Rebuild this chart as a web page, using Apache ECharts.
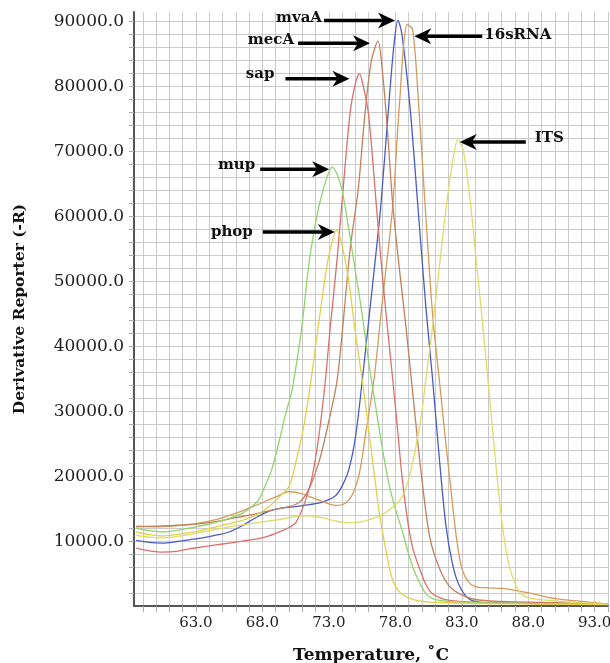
<!DOCTYPE html>
<html>
<head>
<meta charset="utf-8">
<script src="https://cdn.jsdelivr.net/npm/echarts@6/dist/echarts.min.js"></script>
<style>
html,body{margin:0;padding:0;background:#fff;}
#chart{width:610px;height:663px;}
</style>
</head>
<body>
<div id="chart"></div>
<script>
// ---- data (temperature °C, derivative reporter -R) ----
const seriesNames = ['mvaA', '16sRNA', 'mecA', 'sap', 'mup', 'phop', 'ITS'];

const mvaA = [[58.5,10100],[59.5,9800],[60.5,9700],[61.5,9900],[62.5,10200],[63.5,10500],[64.5,10900],[65.5,11400],[66.5,12400],[67.5,13600],[68.5,14600],[69.5,15100],[70.5,15300],[71.5,15600],[72.5,16000],[73.5,17000],[74.0,18500],[74.5,21000],[75.0,26000],[75.5,34500],[76.0,44000],[76.5,53500],[76.9,61500],[77.5,77000],[77.9,86500],[78.2,90200],[78.5,88000],[79.1,77000],[79.7,61500],[80.3,46000],[80.8,35000],[81.3,23000],[81.8,12500],[82.3,6500],[82.8,3200],[83.6,1000],[85.0,500],[88.0,400],[91.0,300],[94.0,200]];

const rna16s = [[58.5,12300],[60.0,12200],[61.5,12400],[63.0,12700],[64.5,13300],[66.0,14300],[67.5,15500],[69.0,16800],[70.0,17600],[70.8,17400],[71.5,16900],[72.5,16100],[73.5,15500],[74.2,15800],[74.8,17300],[75.3,20500],[75.8,27000],[76.4,35000],[77.0,46500],[77.8,61500],[78.3,77000],[78.9,89600],[79.3,88800],[79.7,79000],[80.2,63000],[80.8,45000],[81.3,35000],[81.7,27000],[82.1,19500],[82.6,10500],[83.0,5800],[83.5,3700],[84.0,3000],[85.0,2800],[86.1,2700],[87.0,2400],[88.1,2000],[89.6,1300],[91.0,900],[92.6,600],[94.0,300]];

const mecA = [[58.5,12200],[60.0,12300],[61.5,12400],[63.0,12600],[64.5,13000],[66.0,13600],[67.5,14200],[69.0,14900],[70.0,15300],[70.8,16000],[71.5,18000],[72.3,22500],[73.0,28500],[73.6,34500],[74.0,42000],[74.6,55000],[75.2,64000],[75.7,75500],[76.2,84000],[76.7,87000],[77.0,83000],[77.4,73500],[77.8,62000],[78.3,52000],[78.8,43000],[79.2,35000],[79.6,27000],[80.0,19500],[80.6,10500],[81.3,5900],[82.0,3200],[82.8,1900],[84.0,1000],[86.0,700],[90.0,500],[94.0,300]];

const sap = [[58.5,8900],[59.5,8500],[60.5,8300],[61.5,8400],[62.5,8800],[63.5,9100],[64.5,9400],[65.5,9700],[66.5,10000],[67.5,10300],[68.5,10800],[69.5,11600],[70.0,12100],[70.5,12800],[71.2,16000],[71.7,19500],[72.2,25500],[72.7,34000],[73.1,42800],[73.6,53000],[74.0,62500],[74.6,76000],[75.0,80500],[75.3,82000],[75.6,80000],[76.0,75500],[76.6,61000],[77.0,51500],[77.4,43000],[77.8,35000],[78.2,26500],[78.5,20000],[78.9,13500],[79.3,9000],[79.8,5900],[80.3,3300],[80.8,1900],[82.0,900],[85.0,500],[90.0,400],[94.0,200]];

const mup = [[58.5,12000],[59.5,11600],[60.5,11400],[61.5,11600],[62.5,12000],[63.5,12400],[64.5,12900],[65.5,13500],[66.5,14300],[67.2,15300],[67.7,16300],[68.2,18500],[68.7,21000],[69.25,25300],[69.7,29200],[70.2,33000],[70.6,37800],[71.0,43500],[71.4,51000],[71.7,55500],[72.3,62000],[72.9,66300],[73.25,67600],[73.6,66600],[74.0,64000],[74.5,58000],[75.0,51500],[75.5,45000],[76.0,37500],[76.5,31000],[77.0,24600],[77.5,19000],[78.0,15000],[78.5,11700],[79.0,8000],[79.5,5000],[80.3,1900],[81.0,1000],[83.0,600],[88.0,400],[94.0,300]];

const phop = [[58.5,11400],[59.5,11000],[60.5,10800],[61.5,11000],[62.5,11300],[63.5,11700],[64.5,12200],[65.5,12700],[66.5,13200],[67.5,14000],[68.5,15300],[69.2,16700],[70.0,18400],[70.5,22000],[71.0,26500],[71.5,32500],[72.0,40000],[72.5,47500],[73.0,54000],[73.6,57900],[74.0,55500],[74.5,50000],[75.0,42000],[75.5,35000],[76.0,27000],[76.5,19000],[76.8,14300],[77.3,8500],[77.8,4000],[78.5,1800],[79.8,800],[82.0,500],[88.0,300],[94.0,200]];

const its = [[58.5,10900],[59.5,10600],[60.5,10500],[61.5,10700],[62.5,11000],[63.5,11400],[64.5,11800],[65.5,12200],[66.5,12500],[67.5,12800],[68.5,13100],[69.5,13400],[70.5,13800],[71.5,13900],[72.5,13600],[73.5,13100],[74.5,12800],[75.5,13000],[76.5,13600],[77.5,14700],[78.5,16800],[79.0,19500],[79.5,24000],[80.0,30000],[80.3,35000],[80.8,43000],[81.3,52000],[81.8,61000],[82.3,68200],[82.7,71800],[83.1,70300],[83.6,63000],[84.1,53000],[84.6,42800],[85.1,32000],[85.6,21000],[86.1,11700],[86.6,6000],[87.3,2300],[88.0,1300],[90.0,800],[94.0,300]];

const xTickLabels = [63, 68, 73, 78, 83, 88, 93];
const yTickLabels = [10000, 20000, 30000, 40000, 50000, 60000, 70000, 80000, 90000];

// ---- styles ----
const seriesData = [mvaA, rna16s, mecA, sap, mup, phop, its];
const seriesColors = ['#4a5cc4', '#d69a5c', '#c2805c', '#d9716a', '#8fd46f', '#e2d04a', '#dcdc6a'];

const serif = '"DejaVu Serif", "Liberation Serif", serif';

// minor grid positions (every 1 °C, every 2000 units)
const xGrid = [];
for (let t = 59; t <= 94; t++) xGrid.push(t);
const yGrid = [];
for (let v = 2000; v <= 90000; v += 2000) yGrid.push(v);

const chart = echarts.init(document.getElementById('chart'), null, {renderer: 'canvas'});

const option = {
  animation: false,
  backgroundColor: '#ffffff',
  grid: {left: 134, right: 2, top: 12, bottom: 57, containLabel: false, outerBoundsMode: 'none'},
  xAxis: {
    type: 'value',
    min: 58.34,
    max: 94.0,
    name: 'Temperature, ˚C',
    nameLocation: 'middle',
    nameGap: 41,
    nameTextStyle: {fontFamily: serif, fontWeight: 'bold', fontSize: 17, color: '#111'},
    axisLine: {show: true, onZero: false, lineStyle: {color: '#555', width: 2}},
    axisTick: {show: true, customValues: xGrid, length: 6, lineStyle: {color: '#aaa', width: 1}},
    axisLabel: {customValues: xTickLabels, formatter: v => v.toFixed(1), fontFamily: serif, fontSize: 15, color: '#222', margin: 10},
    splitLine: {show: true, lineStyle: {color: '#cacaca', width: 1}}
  },
  yAxis: {
    type: 'value',
    min: 0,
    max: 91500,
    name: 'Derivative Reporter (-R)',
    nameLocation: 'middle',
    nameGap: 106,
    nameRotate: 90,
    nameTextStyle: {fontFamily: serif, fontWeight: 'bold', fontSize: 15.5, color: '#111'},
    axisLine: {show: true, onZero: false, lineStyle: {color: '#555', width: 2}},
    axisTick: {show: true, customValues: yGrid, length: 5, lineStyle: {color: '#aaa', width: 1}},
    axisLabel: {customValues: yTickLabels, formatter: v => v.toFixed(1), fontFamily: serif, fontSize: 17, color: '#222', margin: 10},
    splitLine: {show: true, lineStyle: {color: '#cacaca', width: 1}}
  },
  series: seriesNames.map((n, i) => ({
    name: n,
    type: 'line',
    data: seriesData[i],
    symbol: 'none',
    smooth: 0.3,
    lineStyle: {color: seriesColors[i], width: 1.3},
    z: 3
  }))
};
chart.setOption(option);

// ---- annotation arrows pointing at each curve's peak ----
const arrowLayout = [
  {name: 'mvaA',   dir: 1,  dx: -3,  dy: 0,  len: 71, gap: 2,  tdy: -2},
  {name: 'mecA',   dir: 1,  dx: -8,  dy: 2,  len: 72, gap: 4,  tdy: -3},
  {name: 'sap',    dir: 1,  dx: -10, dy: 5,  len: 64, gap: 11, tdy: -5},
  {name: 'mup',    dir: 1,  dx: -3,  dy: 2,  len: 69, gap: 5,  tdy: -4},
  {name: 'phop',   dir: 1,  dx: -2,  dy: 2,  len: 72, gap: 10, tdy: 0},
  {name: '16sRNA', dir: -1, dx: 7,   dy: 12, len: 68, gap: 2,  tdy: -1},
  {name: 'ITS',    dir: -1, dx: 2,   dy: 2,  len: 66, gap: 9,  tdy: -4}
];

const graphics = [];
arrowLayout.forEach(a => {
  const idx = seriesNames.indexOf(a.name);
  const data = seriesData[idx];
  let peak = data[0];
  data.forEach(p => { if (p[1] > peak[1]) peak = p; });
  const px = chart.convertToPixel({xAxisIndex: 0, yAxisIndex: 0}, peak);
  const tx = px[0] + a.dx, ty = px[1] + a.dy;
  const d = a.dir; // 1: points right, -1: points left
  const headL = 17, headW = 8, notch = 12;
  const tailX = tx - d * a.len;
  graphics.push({
    type: 'line', z: 20,
    shape: {x1: tailX, y1: ty, x2: tx - d * notch, y2: ty},
    style: {stroke: '#000', lineWidth: 3.5}
  });
  graphics.push({
    type: 'polygon', z: 20,
    shape: {points: [[tx, ty], [tx - d * headL, ty - headW], [tx - d * notch, ty], [tx - d * headL, ty + headW]]},
    style: {fill: '#000'}
  });
  graphics.push({
    type: 'text', z: 20,
    x: tailX - d * a.gap, y: ty + a.tdy,
    style: {
      text: a.name,
      font: 'bold 15px ' + serif,
      fill: '#111',
      align: d === 1 ? 'right' : 'left',
      verticalAlign: 'middle'
    }
  });
});
chart.setOption({graphic: graphics});
</script>
</body>
</html>
